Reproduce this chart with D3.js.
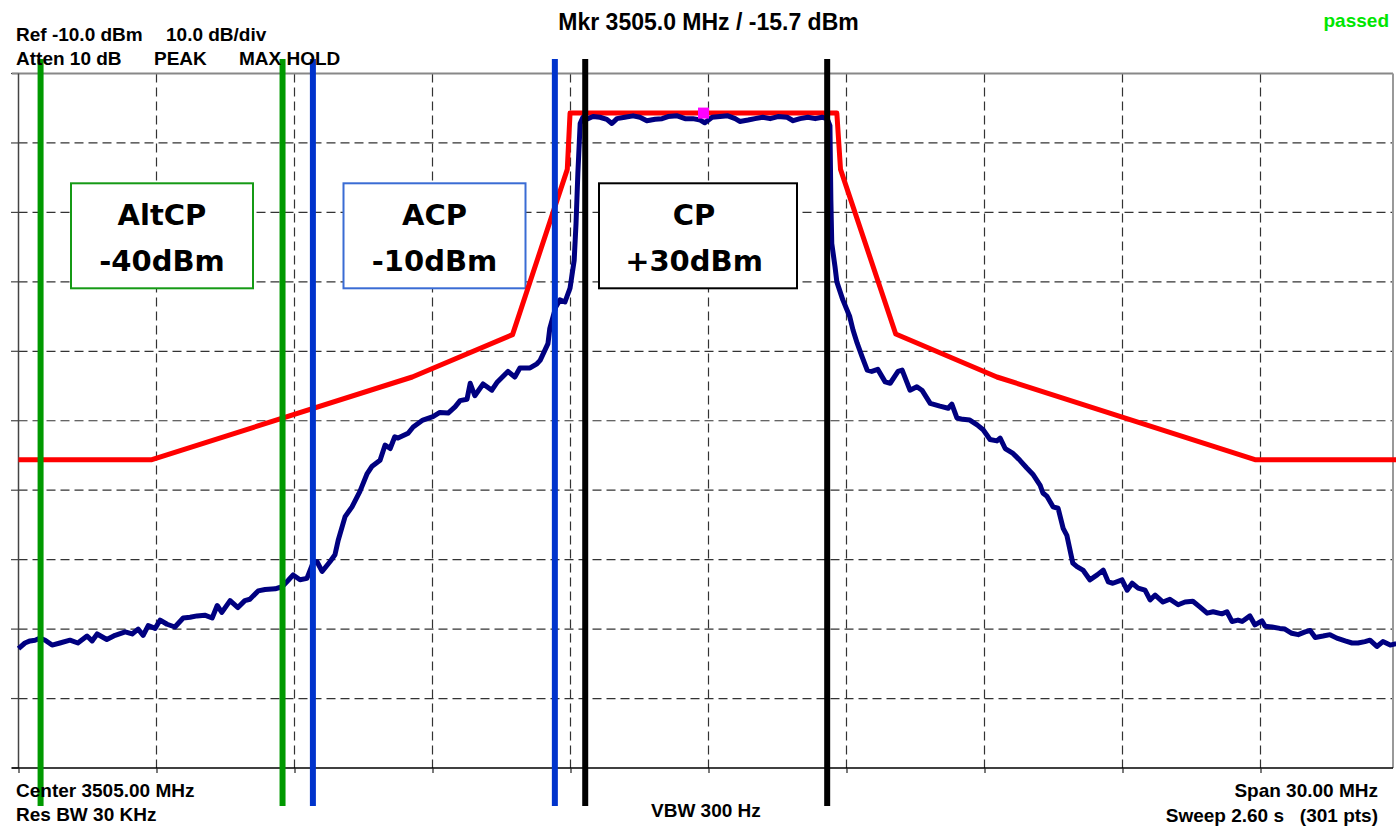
<!DOCTYPE html>
<html lang="en">
<head>
    <meta charset="utf-8">
    <title>ACP</title>
    <script src="https://d3js.org/d3.v7.min.js" charset="utf-8"></script>
    <style>
        body { margin: 0; background: #fff; }
        text { font-family: "Liberation Sans", Arial, sans-serif; font-weight: bold; }
    </style>
</head>
<body>
<script>

// spectrum trace, MHz / dBm
var traceFreq = [3490.00,3490.14,3490.25,3490.36,3490.47,3490.58,3490.73,3490.90,3491.12,3491.29,3491.49,3491.60,3491.71,3491.92,3492.10,3492.32,3492.47,3492.60,3492.71,3492.82,3492.97,3493.08,3493.23,3493.40,3493.58,3493.73,3493.88,3494.05,3494.21,3494.32,3494.42,3494.60,3494.77,3494.92,3495.03,3495.21,3495.36,3495.58,3495.73,3495.86,3495.97,3496.12,3496.27,3496.40,3496.49,3496.60,3496.77,3496.88,3496.95,3497.10,3497.25,3497.42,3497.58,3497.68,3497.86,3497.97,3498.08,3498.18,3498.25,3498.47,3498.58,3498.79,3499.01,3499.16,3499.34,3499.49,3499.60,3499.75,3499.82,3499.92,3500.10,3500.29,3500.40,3500.64,3500.79,3500.90,3501.12,3501.27,3501.34,3501.51,3501.55,3501.68,3501.77,3501.88,3501.99,3502.08,3502.12,3502.16,3502.21,3502.27,3502.38,3502.49,3502.64,3502.79,3502.90,3503.01,3503.18,3503.36,3503.51,3503.66,3503.84,3503.99,3504.12,3504.32,3504.49,3504.66,3504.82,3504.92,3505.08,3505.25,3505.42,3505.58,3505.68,3505.86,3506.01,3506.18,3506.34,3506.51,3506.71,3506.84,3506.99,3507.16,3507.32,3507.47,3507.58,3507.64,3507.66,3507.68,3507.75,3507.79,3507.92,3508.07,3508.14,3508.23,3508.34,3508.45,3508.55,3508.68,3508.84,3508.95,3509.12,3509.21,3509.38,3509.53,3509.64,3509.82,3510.03,3510.21,3510.29,3510.40,3510.53,3510.68,3510.84,3510.97,3511.12,3511.27,3511.34,3511.45,3511.62,3511.77,3511.92,3512.05,3512.21,3512.27,3512.36,3512.49,3512.60,3512.71,3512.79,3512.92,3513.01,3513.14,3513.29,3513.45,3513.58,3513.69,3513.79,3513.99,3514.10,3514.21,3514.34,3514.49,3514.60,3514.71,3514.88,3515.03,3515.21,3515.36,3515.53,3515.68,3515.84,3515.97,3516.16,3516.27,3516.38,3516.51,3516.60,3516.77,3516.88,3517.03,3517.10,3517.25,3517.42,3517.53,3517.68,3517.82,3517.97,3518.08,3518.19,3518.36,3518.51,3518.66,3518.84,3518.99,3519.12,3519.27,3519.38,3519.53,3519.66,3519.82,3519.95]
var traceDbm = [-92.8,-92.0,-91.7,-91.6,-91.3,-91.6,-92.3,-92.0,-91.6,-92.0,-91.0,-91.7,-90.7,-91.5,-90.9,-90.4,-90.7,-90.0,-90.9,-89.5,-89.9,-88.7,-89.3,-89.7,-88.4,-88.3,-88.1,-88.0,-88.4,-86.6,-87.6,-85.9,-86.9,-85.9,-85.7,-84.5,-84.3,-84.2,-83.9,-83.0,-82.2,-82.9,-82.7,-80.5,-80.3,-81.7,-80.3,-79.3,-77.2,-73.8,-72.4,-70.2,-67.6,-66.6,-65.7,-63.5,-64.0,-62.3,-62.5,-61.8,-60.9,-59.9,-59.4,-58.8,-58.9,-58.0,-57.1,-56.9,-54.6,-56.4,-54.7,-55.6,-54.5,-52.9,-53.7,-52.4,-52.4,-51.8,-51.3,-48.9,-46.7,-43.6,-42.6,-42.9,-40.9,-36.9,-31.6,-24.4,-17.2,-16.3,-16.5,-16.2,-16.3,-16.6,-17.2,-16.5,-16.3,-16.1,-16.3,-16.8,-16.6,-16.5,-16.2,-16.1,-16.5,-16.5,-16.7,-17.1,-16.3,-16.2,-16.1,-16.5,-16.9,-16.7,-16.5,-16.3,-16.5,-16.2,-16.3,-16.8,-16.5,-16.3,-16.5,-16.3,-16.5,-17.5,-28.2,-34.5,-37.8,-40.0,-42.6,-45.0,-46.9,-48.8,-50.8,-52.7,-52.9,-52.6,-54.4,-54.6,-52.9,-52.7,-55.6,-55.1,-55.6,-57.5,-57.9,-58.2,-57.6,-59.6,-59.8,-59.9,-60.6,-61.3,-62.7,-62.9,-62.5,-64.0,-64.7,-65.7,-66.8,-67.7,-69.3,-70.4,-70.9,-72.4,-72.6,-75.5,-76.5,-80.5,-81.0,-81.5,-82.9,-82.2,-81.5,-83.2,-83.4,-82.9,-84.4,-83.4,-84.1,-84.4,-85.8,-85.1,-86.1,-85.7,-86.5,-86.1,-86.0,-86.8,-87.7,-87.5,-87.8,-87.5,-88.9,-88.7,-88.9,-88.1,-89.4,-88.8,-89.6,-89.7,-89.9,-90.0,-90.6,-90.8,-90.4,-90.2,-91.2,-91.0,-90.8,-91.3,-91.7,-92.0,-92.0,-91.8,-91.6,-92.5,-91.8,-92.3,-92.1]

// spectrum emission mask
var limitFreq = [3490.00,3492.90,3498.56,3500.74,3501.93,3501.99,3507.79,3507.87,3509.07,3511.27,3516.88,3520.00]
var limitDbm = [-65.6,-65.6,-53.7,-47.6,-23.8,-15.7,-15.7,-23.8,-47.5,-53.7,-65.6,-65.6]

// channels: name, integration edges (MHz), power
var channelNames = ["AltCP", "ACP", "CP"]
var channelLo = [3490.48, 3496.40, 3502.32]
var channelHi = [3495.74, 3501.66, 3507.58]
var channelPower = ["-40dBm", "-10dBm", "+30dBm"]

var markerFreq = 3505.0
var markerDbm = -15.7

var xTicks = d3.range(3490, 3520, 3)
var yTicks = d3.range(-110, -9, 10)

var w = 1396, h = 826
var plotLeft = 18.5, plotTop = 73.5, plotBottom = 768, plotRight = 1393

var xScale = d3.scaleLinear().domain([3490, 3520]).range([plotLeft, 1398.5])
var yScale = d3.scaleLinear().domain([-110, -10]).range([plotBottom, plotTop])

var svg = d3.select("body").append("svg").attr("width", w).attr("height", h)

// grid
svg.append("g").selectAll("line").data(xTicks.slice(1)).join("line")
    .attr("x1", d => xScale(d)).attr("x2", d => xScale(d))
    .attr("y1", plotTop).attr("y2", plotBottom)
    .attr("stroke", "#333").attr("stroke-width", 1.2).attr("stroke-dasharray", "9,5")
svg.append("g").selectAll("line").data(yTicks.slice(1, -1)).join("line")
    .attr("x1", plotLeft).attr("x2", plotRight)
    .attr("y1", d => yScale(d)).attr("y2", d => yScale(d))
    .attr("stroke", "#333").attr("stroke-width", 1.2).attr("stroke-dasharray", "9,5")

// left ticks
svg.append("g").selectAll("line").data(yTicks).join("line")
    .attr("x1", 11).attr("x2", plotLeft)
    .attr("y1", d => yScale(d)).attr("y2", d => yScale(d))
    .attr("stroke", "#444").attr("stroke-width", 1.2)

// frame
svg.append("line").attr("x1", 12).attr("x2", plotRight).attr("y1", plotTop).attr("y2", plotTop)
    .attr("stroke", "#888").attr("stroke-width", 2)
svg.append("line").attr("x1", plotLeft).attr("x2", plotLeft).attr("y1", plotTop).attr("y2", plotBottom)
    .attr("stroke", "#444").attr("stroke-width", 1.5)
svg.append("line").attr("x1", plotRight).attr("x2", plotRight).attr("y1", plotTop).attr("y2", plotBottom)
    .attr("stroke", "#999").attr("stroke-width", 2)

var xAxis = svg.append("g").attr("transform", "translate(0," + plotBottom + ")")
    .call(d3.axisBottom(xScale).tickValues(xTicks).tickSize(5).tickFormat("").tickSizeOuter(0))
xAxis.select(".domain").attr("d", "M12,0H" + plotRight).attr("stroke", "#000").attr("stroke-width", 1.5)
xAxis.selectAll(".tick line").attr("stroke", "#222").attr("stroke-width", 1.2)

// channel boxes
var boxX = [71, 343.5, 599], boxW = [182, 182, 198]
var boxColors = ["#159a15", "#3a6cd4", "#000000"]
channelNames.forEach(function(name, i) {
    var g = svg.append("g")
    g.append("rect").attr("x", boxX[i]).attr("y", 183.3).attr("width", boxW[i]).attr("height", 105)
        .attr("fill", "#fff").attr("stroke", boxColors[i]).attr("stroke-width", 2)
    var cx = boxX[i] + boxW[i] / 2 - (i == 2 ? 4 : 0)
    g.append("text").attr("x", cx).attr("y", 225).attr("text-anchor", "middle")
        .style("font-family", "'DejaVu Sans', Verdana, sans-serif").style("font-size", "29px").text(name)
    g.append("text").attr("x", cx).attr("y", 271).attr("text-anchor", "middle")
        .style("font-family", "'DejaVu Sans', Verdana, sans-serif").style("font-size", "29px").text(channelPower[i])
})

// mask line
var specLine = d3.line().x(d => xScale(d[0])).y(d => yScale(d[1]))
svg.append("path").datum(d3.zip(limitFreq, limitDbm)).attr("d", specLine)
    .attr("fill", "none").attr("stroke", "#ff0000").attr("stroke-width", 5).attr("stroke-linejoin", "round")

// trace
svg.append("path").datum(d3.zip(traceFreq, traceDbm)).attr("d", specLine)
    .attr("fill", "none").attr("stroke", "#000080").attr("stroke-width", 5).attr("stroke-linejoin", "round")

// marker
svg.append("rect").attr("x", xScale(markerFreq) - 10.5).attr("y", yScale(markerDbm) - 5.5)
    .attr("width", 11).attr("height", 11).attr("fill", "#ff00ff")

// channel edges
var lineColors = ["#009900", "#0033cc", "#000000"]
channelNames.forEach(function(name, i) {
    svg.append("g").selectAll("line").data([channelLo[i], channelHi[i]]).join("line")
        .attr("x1", d => xScale(d)).attr("x2", d => xScale(d))
        .attr("y1", 59).attr("y2", 806)
        .attr("stroke", lineColors[i]).attr("stroke-width", 6)
})

// annotations
function label(x, y, t, size, anchor, color) {
    svg.append("text").attr("x", x).attr("y", y).attr("text-anchor", anchor || "start")
        .style("font-size", size + "px").attr("fill", color || "#000").style("white-space", "pre").text(t)
}
label(16, 40.5, "Ref -10.0 dBm", 19)
label(166, 40.5, "10.0 dB/div", 19)
label(16, 65, "Atten 10 dB", 19)
label(154, 65, "PEAK", 19)
label(239, 65, "MAX HOLD", 19)
label(xScale(markerFreq), 30, "Mkr " + markerFreq.toFixed(1) + " MHz / " + markerDbm.toFixed(1) + " dBm", 23, "middle")
label(1389, 27, "passed", 19, "end", "#00e600")
label(16, 797, "Center 3505.00 MHz", 19)
label(16, 821, "Res BW 30 KHz", 19)
label(651, 817, "VBW 300 Hz", 19)
label(1378, 797, "Span 30.00 MHz", 19, "end")
label(1378, 821.5, "Sweep 2.60 s   (301 pts)", 19, "end")

</script>
</body>
</html>
